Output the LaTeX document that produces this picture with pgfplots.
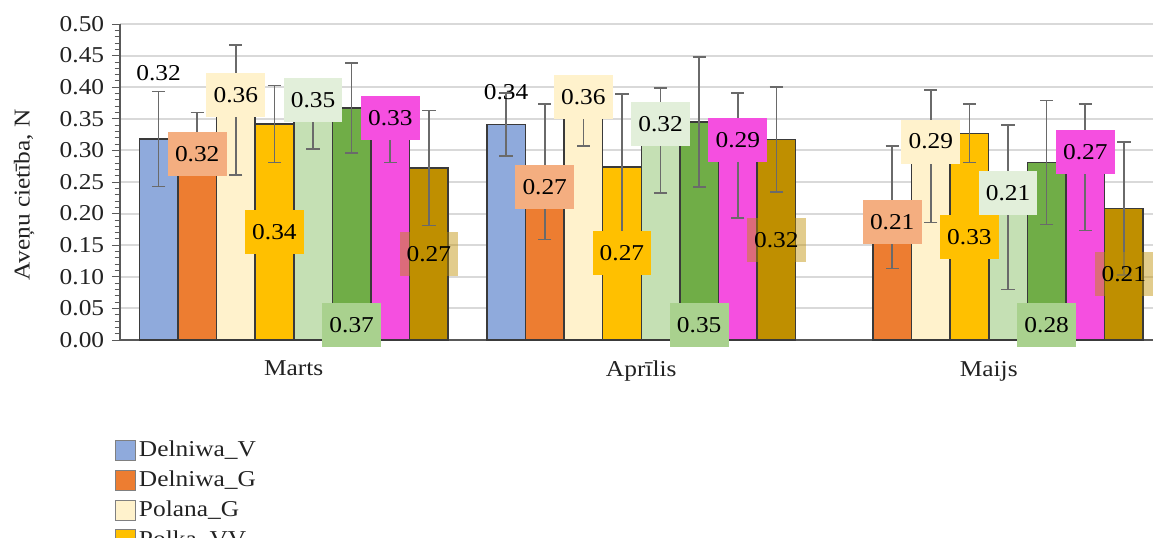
\documentclass[border=0pt]{standalone}
\usepackage{fontspec}
\setmainfont{Liberation Serif}[FakeStretch=1.12]
\usepackage{pgfplots}
\usepackage{pgfplotstable}
\pgfplotsset{compat=1.18}

\definecolor{cBlue}{HTML}{8FAADC}
\definecolor{cOrange}{HTML}{ED7D31}
\definecolor{cCream}{HTML}{FFF2CC}
\definecolor{cGold}{HTML}{FFC000}
\definecolor{cLGreen}{HTML}{C5E0B4}
\definecolor{cGreen}{HTML}{70AD47}
\definecolor{cMag}{HTML}{F54FE0}
\definecolor{cDGold}{HTML}{BF8F00}
\definecolor{lOrange}{HTML}{F4AE80}
\definecolor{lLGreen}{HTML}{E2EFDA}
\definecolor{lGreen}{HTML}{A9D18E}
\definecolor{barline}{HTML}{3A3A3A}
\definecolor{errgray}{HTML}{6A6A6A}
\definecolor{gridgray}{HTML}{D9D9D9}
\definecolor{txt}{HTML}{222222}

% columns: month index, mean, error, height of the value label
\pgfplotstableread{
x y err ly
0 0.318 0.075 0.422
1 0.341 0.050 0.392
}\tDelV
\pgfplotstableread{
x y err ly
0 0.320 0.040 0.294
1 0.266 0.107 0.242
2 0.210 0.097 0.186
}\tDelG
\pgfplotstableread{
x y err ly
0 0.364 0.103 0.388
1 0.360 0.053 0.384
2 0.291 0.105 0.314
}\tPolG
\pgfplotstableread{
x y err ly
0 0.342 0.061 0.171
1 0.274 0.115 0.138
2 0.327 0.046 0.163
}\tPolkaVV
\pgfplotstableread{
x y err ly
0 0.350 0.048 0.379
1 0.316 0.083 0.341
2 0.210 0.130 0.233
}\tSerE
\pgfplotstableread{
x y err ly
0 0.367 0.071 0.024
1 0.345 0.103 0.024
2 0.281 0.098 0.024
}\tSerF
\pgfplotstableread{
x y err ly
0 0.330 0.049 0.351
1 0.292 0.099 0.316
2 0.273 0.100 0.297
}\tSerG
\pgfplotstableread{
x y err ly
0 0.272 0.091 0.136
1 0.317 0.083 0.158
2 0.208 0.105 0.104
}\tSerH

\pgfplotsset{
  mybar/.style={fill=#1, draw=barline, line width=1.1pt,
    error bars/.cd, y dir=both, y explicit,
    error bar style={errgray, line width=1.2pt},
    error mark options={errgray, line width=1.2pt, mark size=5pt, rotate=90},
    /pgfplots/.cd,
    legend image code/.code={\draw[fill=#1, draw=gray, line width=0.8pt] (0pt,-7.5pt) rectangle (15pt,7.5pt);}},
  mylab/.style={draw=none, fill=none, forget plot, nodes near coords,
    point meta=explicit,
    nodes near coords={\pgfmathprintnumber[fixed,fixed zerofill,precision=2]{\pgfplotspointmeta}},
    nodes near coords align={center},
    every node near coord/.append style={fill=#1, text=black, inner sep=0pt,
      minimum width=44pt, minimum height=33pt}},
}

\begin{document}
\fontsize{17}{20}\selectfont
\begin{tikzpicture}
\begin{axis}[
  scale only axis,
  width=781.875pt, height=237pt,
  ybar=0pt, bar width=0.1111,
  xmin=-0.5, xmax=2.5, ymin=0, ymax=0.5,
  clip=false,
  axis x line*=bottom, axis y line*=left,
  axis line style={draw=gray!70!black, line width=1pt},
  xtick={0,1,2}, xticklabels={Marts, Aprīlis, Maijs},
  x tick style={draw=none},
  xticklabel style={text=txt, yshift=-4pt},
  ytick distance=0.05, minor y tick num=4,
  tick align=outside,
  major tick length=6pt, minor tick length=4pt,
  y tick style={draw=gray!70!black, line width=0.6pt},
  yticklabel style={text=txt, /pgf/number format/fixed, /pgf/number format/fixed zerofill, /pgf/number format/precision=2},
  /pgf/number format/assume math mode=true,
  ymajorgrids, major grid style={draw=gridgray, line width=1.5pt},
  ylabel={Aveņu cietība, N},
  every axis y label/.style={at={(axis description cs:-0.092,0.46)}, rotate=90, anchor=center, text=txt},
  legend style={at={(axis description cs:-0.0048,-0.31)}, anchor=north west, draw=none, fill=none,
    inner sep=0pt, row sep=4pt, nodes={inner sep=2pt, text=txt}},
  legend cell align=left,
]
\addplot[mybar=cBlue, bar shift=-0.3889] table[x=x, y=y, y error=err]{\tDelV};
\addplot[mybar=cOrange, bar shift=-0.2778] table[x=x, y=y, y error=err]{\tDelG};
\addplot[mybar=cCream, bar shift=-0.1667] table[x=x, y=y, y error=err]{\tPolG};
\addplot[mybar=cGold, bar shift=-0.0556] table[x=x, y=y, y error=err]{\tPolkaVV};
\addplot[mybar=cLGreen, bar shift=0.0556] table[x=x, y=y, y error=err]{\tSerE};
\addplot[mybar=cGreen, bar shift=0.1667] table[x=x, y=y, y error=err]{\tSerF};
\addplot[mybar=cMag, bar shift=0.2778] table[x=x, y=y, y error=err]{\tSerG};
\addplot[mybar=cDGold, bar shift=0.3889] table[x=x, y=y, y error=err]{\tSerH};
\legend{Delniwa\_V, Delniwa\_G, Polana\_G, Polka\_VV, Polka\_G, Polka\_V, Glen\_V, Glen\_G}

% value labels
\addplot[mylab=none, bar shift=-0.3889] table[x=x, y=ly, meta=y]{\tDelV};
\addplot[mylab=lOrange, bar shift=-0.2778] table[x=x, y=ly, meta=y]{\tDelG};
\addplot[mylab=cCream, bar shift=-0.1667] table[x=x, y=ly, meta=y]{\tPolG};
\addplot[mylab=cGold, bar shift=-0.0556] table[x=x, y=ly, meta=y]{\tPolkaVV};
\addplot[mylab=lLGreen, bar shift=0.0556] table[x=x, y=ly, meta=y]{\tSerE};
\addplot[mylab=lGreen, bar shift=0.1667] table[x=x, y=ly, meta=y]{\tSerF};
\addplot[mylab=cMag, bar shift=0.2778] table[x=x, y=ly, meta=y]{\tSerG};
\addplot[mylab=cDGold, bar shift=0.3889, every node near coord/.append style={fill opacity=0.45, text opacity=1}] table[x=x, y=ly, meta=y]{\tSerH};

\coordinate (sw) at (rel axis cs:0,0);
\coordinate (ne) at (rel axis cs:1,1);
\end{axis}
\pgfresetboundingbox
\path[use as bounding box] ([shift={(-90pt,-148.5pt)}]sw) rectangle ([shift={(-7.125pt,18pt)}]ne);
\end{tikzpicture}
\end{document}
